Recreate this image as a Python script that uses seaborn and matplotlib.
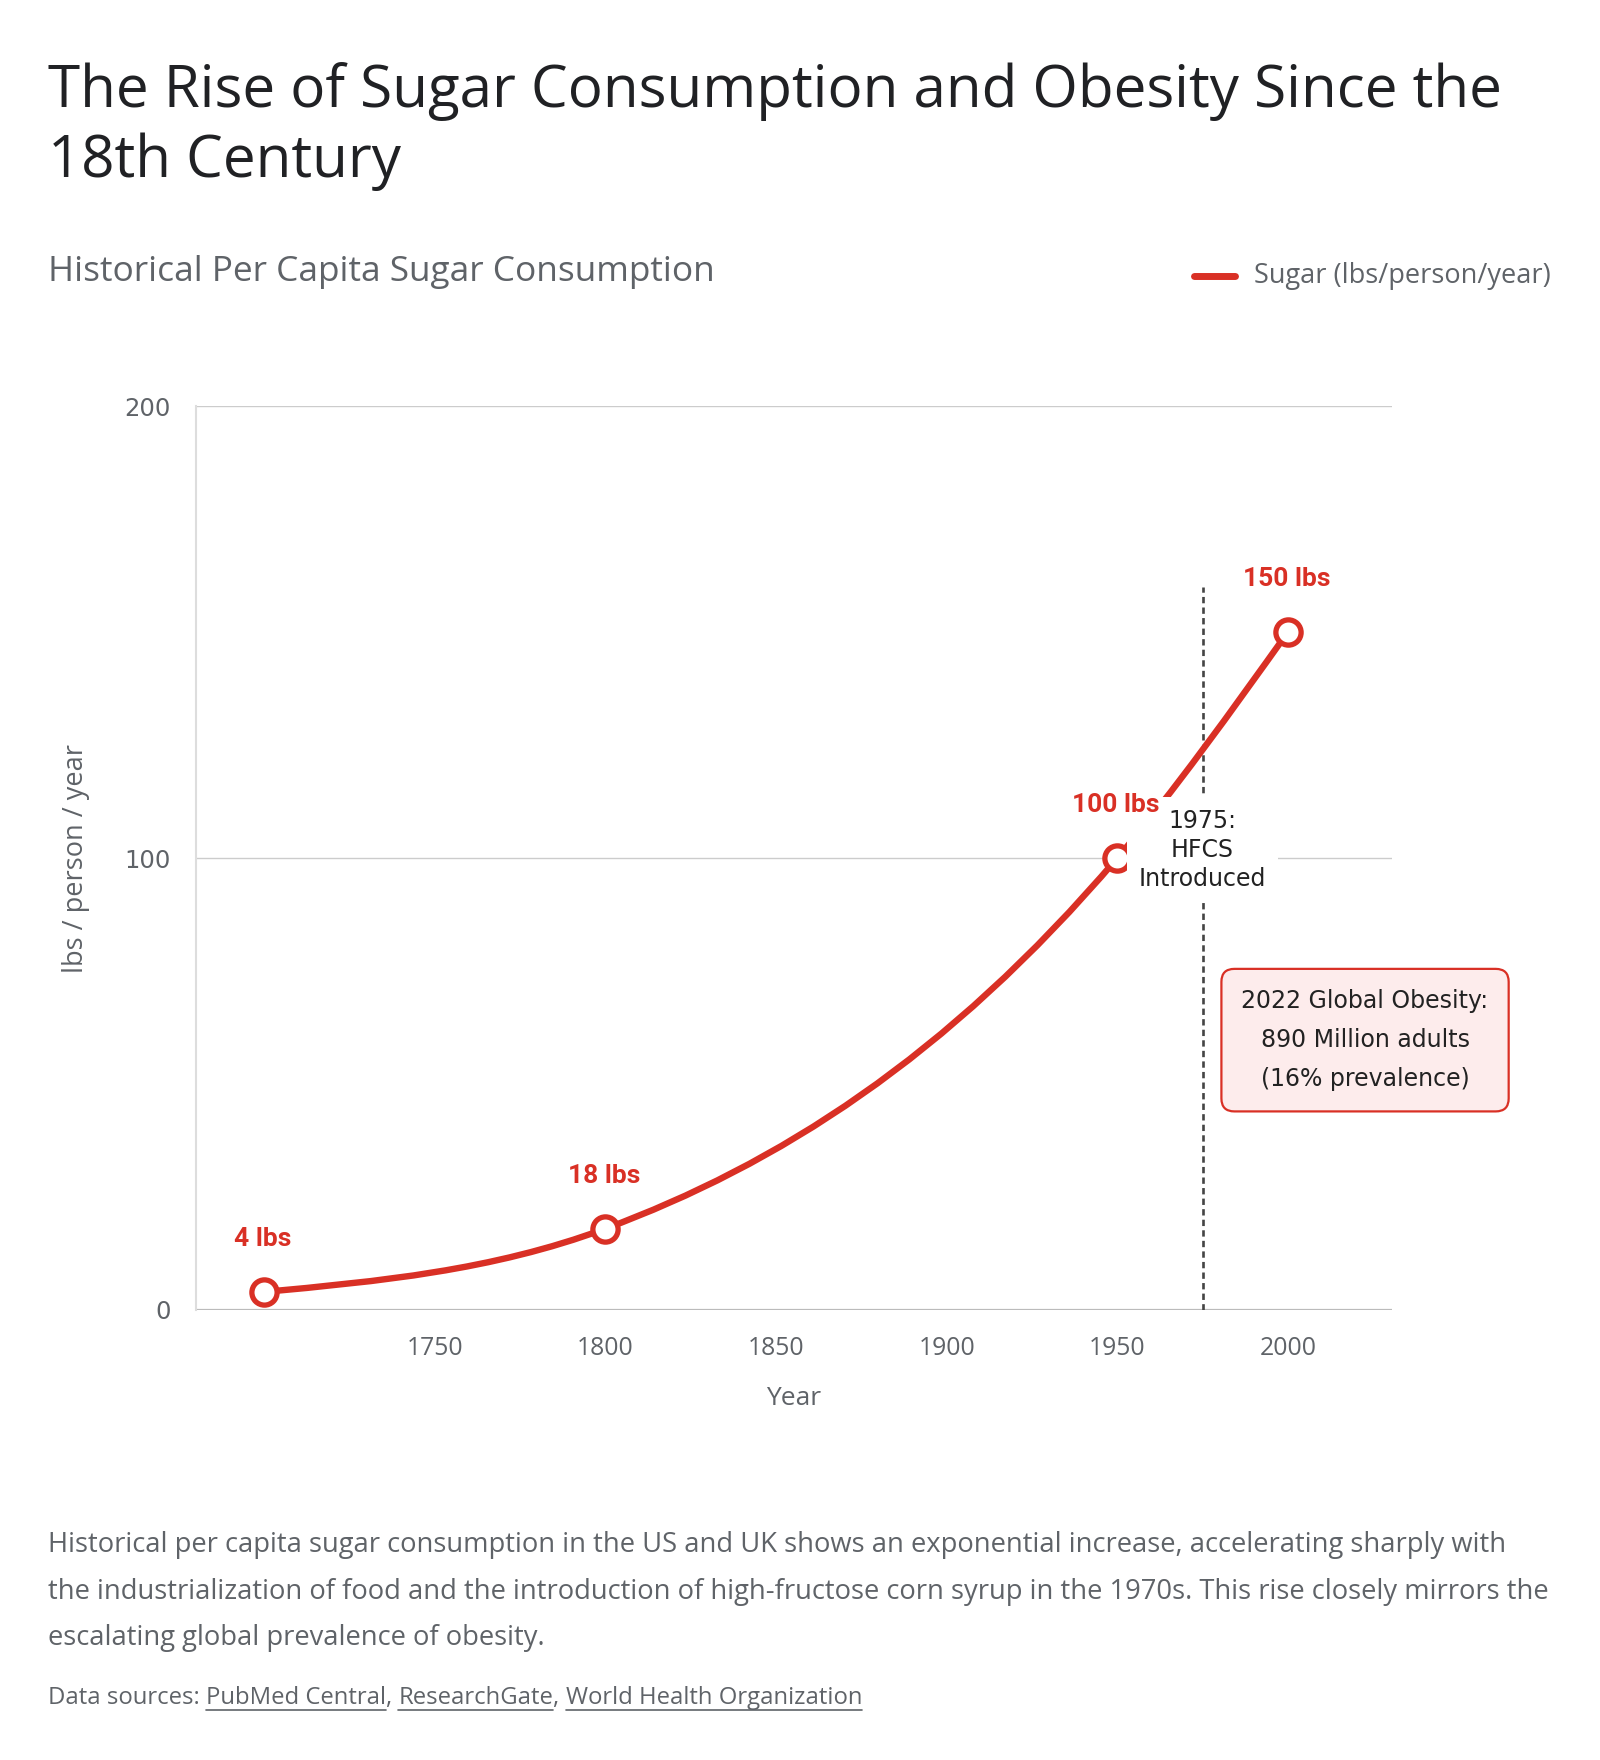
import numpy as np
import matplotlib
matplotlib.use("Agg")
import matplotlib.pyplot as plt
import seaborn as sns
from matplotlib.path import Path
from matplotlib.patches import PathPatch
from matplotlib.lines import Line2D

# data
years = [1700, 1800, 1950, 2000]
sugar = [4, 18, 100, 150]
point_labels = ["4 lbs", "18 lbs", "100 lbs", "150 lbs"]
x_ticks = [1750, 1800, 1850, 1900, 1950, 2000]
y_ticks = [0, 100, 200]
hfcs_year = 1975
hfcs_top = 160
hfcs_label = "1975:\nHFCS\nIntroduced"
obesity_text = "2022 Global Obesity:\n890 Million adults\n(16% prevalence)"

RED = "#d93025"
GRAY = "#5f6368"
DARK = "#202124"

sns.set_theme(style="white")
plt.rcParams["font.family"] = ["Open Sans", "DejaVu Sans"]

fig = plt.figure(figsize=(16, 17.6), dpi=100)
ax = fig.add_axes([0.1225, 0.2557, 0.7475, 0.5136])


def monotone_slopes(x, y):
    # same tangents as a monotone-x cubic curve
    x = np.asarray(x, float)
    y = np.asarray(y, float)
    h = np.diff(x)
    s = np.diff(y) / h
    m = np.zeros(len(x))
    for i in range(1, len(x) - 1):
        if s[i - 1] * s[i] <= 0:
            m[i] = 0
        else:
            p = (s[i - 1] * h[i] + s[i] * h[i - 1]) / (h[i - 1] + h[i])
            m[i] = np.sign(s[i]) * min(2 * abs(s[i - 1]), 2 * abs(s[i]), abs(p))
    m[0] = (3 * s[0] - m[1]) / 2
    m[-1] = (3 * s[-1] - m[-2]) / 2
    return m


m = monotone_slopes(years, sugar)
verts = [(years[0], sugar[0])]
codes = [Path.MOVETO]
for i in range(len(years) - 1):
    h = years[i + 1] - years[i]
    verts += [(years[i] + h / 3, sugar[i] + m[i] * h / 3),
              (years[i + 1] - h / 3, sugar[i + 1] - m[i + 1] * h / 3),
              (years[i + 1], sugar[i + 1])]
    codes += [Path.CURVE4] * 3
ax.add_patch(PathPatch(Path(verts, codes), facecolor="none", edgecolor=RED,
                       lw=4.6, capstyle="round", joinstyle="round", zorder=3))

sns.scatterplot(x=years, y=sugar, ax=ax, s=330, color="white", edgecolor=RED,
                linewidth=3.8, zorder=4, legend=False)

for x, y, lab in zip(years, sugar, point_labels):
    ax.annotate(lab, (x, y), xytext=(-1, 38), textcoords="offset points",
                ha="center", va="center", color=RED, fontsize=19,
                fontweight="bold", family=["Roboto", "DejaVu Sans"], zorder=6)

# HFCS marker
ax.plot([hfcs_year, hfcs_year], [0, hfcs_top], color="#444444", lw=1.9,
        linestyle=(0, (2.4, 1.6)), zorder=2)
ax.text(hfcs_year, 101.8, hfcs_label, ha="center", va="center", fontsize=17,
        color="#222222", linespacing=1.28, family=["DejaVu Sans"], zorder=5,
        bbox=dict(boxstyle="square,pad=0.5", fc="white", ec="none"))

ax.text(2022.6, 59.7, obesity_text, ha="center", va="center", fontsize=17,
        color="#222222", linespacing=1.8, family=["DejaVu Sans"], zorder=5,
        clip_on=False,
        bbox=dict(boxstyle="round,pad=0.85,rounding_size=0.55", fc="#fdecec",
                  ec=RED, lw=1.6))

ax.set_xlim(1680, 2030.5)
ax.set_ylim(0, 200)
ax.set_xticks(x_ticks)
ax.set_yticks(y_ticks)
ax.set_yticklabels([str(v) for v in y_ticks], family=["DejaVu Sans"])
ax.yaxis.grid(True, color="#cccccc", lw=1.0)
ax.set_axisbelow(True)
ax.axhline(0, color="#bbbbbb", lw=1.6, zorder=1)
for sp in ["top", "right", "bottom"]:
    ax.spines[sp].set_visible(False)
ax.spines["left"].set_color("#dddddd")
ax.spines["left"].set_linewidth(1.5)
ax.tick_params(axis="x", length=0, pad=19, labelsize=17.8, labelcolor=GRAY)
ax.tick_params(axis="y", length=12, width=1.0, color="#cccccc", pad=6,
               labelsize=17.5, labelcolor=GRAY)
ax.set_xlabel("Year", fontsize=19, color=GRAY, labelpad=18)
ax.set_ylabel("lbs / person / year", fontsize=19.5, color=GRAY)
ax.yaxis.set_label_coords(-0.0886, 0.5)

# titles
fig.text(0.03, 1 - 107 / 1760, "The Rise of Sugar Consumption and Obesity Since the",
         fontsize=42, color=DARK, va="baseline")
fig.text(0.03, 1 - 177 / 1760, "18th Century", fontsize=42, color=DARK, va="baseline")
fig.text(0.03, 1 - 281 / 1760, "Historical Per Capita Sugar Consumption",
         fontsize=25.4, color=GRAY, va="baseline")

# legend
fig.add_artist(Line2D([1194 / 1600, 1235 / 1600], [1 - 276 / 1760] * 2,
                      color=RED, lw=5, solid_capstyle="round"))
fig.text(1254 / 1600, 1 - 276 / 1760, "Sugar (lbs/person/year)", fontsize=19.5,
         color=GRAY, va="center")

# footer
footer = [
    "Historical per capita sugar consumption in the US and UK shows an exponential increase, accelerating sharply with",
    "the industrialization of food and the introduction of high-fructose corn syrup in the 1970s. This rise closely mirrors the",
    "escalating global prevalence of obesity.",
]
for i, line in enumerate(footer):
    fig.text(0.03, 1 - (1545 + i * 46.5) / 1760, line, fontsize=19.7,
             color=GRAY, va="center")

renderer = fig.canvas.get_renderer()
src_y = 1 - 1704 / 1760
pieces = [("Data sources: ", False), ("PubMed Central", True), (", ", False),
          ("ResearchGate", True), (", ", False), ("World Health Organization", True)]
x = 0.03
for txt, under in pieces:
    t = fig.text(x, src_y, txt, fontsize=17.2, color=GRAY, va="baseline")
    bb = t.get_window_extent(renderer)
    w = bb.width / fig.bbox.width
    if under:
        fig.add_artist(Line2D([x, x + w], [src_y - 6 / 1760] * 2, color=GRAY, lw=1.2))
    x += w

fig.savefig("out.png", dpi=100, facecolor="white")
